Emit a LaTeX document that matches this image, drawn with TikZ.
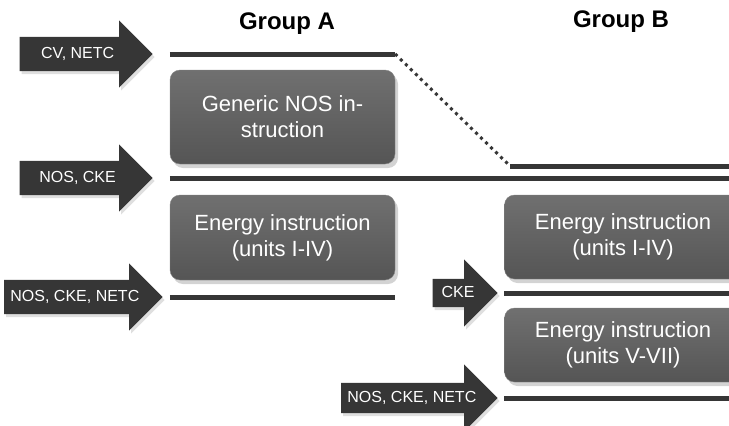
\documentclass[tikz,border=0pt]{standalone}
\usepackage{fontspec}
\setmainfont{Liberation Sans}
\usetikzlibrary{shapes.arrows,shadows}
\definecolor{darkbar}{HTML}{363636}
\definecolor{boxtop}{HTML}{707070}
\definecolor{boxbot}{HTML}{555555}
\tikzset{tag/.style = {single arrow, draw=none, fill=darkbar, text=white, font=\fontsize{16}{18}\selectfont,
		single arrow head extend=16.5pt, text height=12pt, text depth=4pt, inner ysep=9pt, inner xsep=6pt,
		anchor=tip, drop shadow={opacity=0.25, shadow xshift=2pt, shadow yshift=-3pt}},
	block/.style    = {rectangle, rounded corners=10pt, top color=boxtop, bottom color=boxbot, draw=boxtop!85!white,
		text=white, align=center, font=\fontsize{22}{26}\selectfont, minimum width=225pt,
		drop shadow={opacity=0.35, shadow xshift=3pt, shadow yshift=-4pt}},
	bar/.style      = {draw=darkbar, line width=5pt},
	dotline/.style  = {draw=darkbar, line width=3pt, dash pattern=on 3pt off 4pt},
	title/.style    = {font=\bfseries\fontsize{24}{28}\selectfont}
}
\begin{document}
\begin{tikzpicture}[x=1pt, y=-1pt]
		\clip (0,0) rectangle (729,426);
		\coordinate (edge) at (729,0);
		\node [title] (grpA) at (287,24) {Group A};
		\node [title] (grpB) at (621,22) {Group B};
		\node [block, minimum height=94pt] (nosA) at (282.5,117) {Generic NOS in-\\struction};
		\node [block, minimum height=85pt] (energyA) at (282.5,237.5) {Energy instruction\\(units I-IV)};
		\node [block, minimum width=237pt, minimum height=84pt] (energyB) at (623,237) {Energy instruction\\(units I-IV)};
		\node [block, minimum width=237pt, minimum height=74pt, below of=energyB, node distance=108pt] (energyB2) {Energy instruction\\(units V-VII)};
		\node [tag, minimum height=133pt] (cvnetc) at (153,54) {CV, NETC};
		\node [tag, minimum height=133pt] (noscke) at (153,178) {NOS, CKE};
		\node [tag, minimum height=155pt] (allA) at (163,297) {NOS, CKE, NETC};
		\node [tag, minimum height=65pt, inner ysep=6pt, single arrow head extend=19.5pt] (ckeB) at (498,293) {CKE};
		\node [tag, minimum height=155pt, inner ysep=7pt, single arrow head extend=18.5pt] (allB) at (498,398) {NOS, CKE, NETC};
		\coordinate (dropB) at (510,166);
		\draw[bar] (cvnetc.tip -| nosA.west) -- (cvnetc.tip -| nosA.east) coordinate (dropA);
		\draw[dotline] (dropA) -- (dropB);
		\draw[bar] (dropB) -- (dropB -| edge);
		\draw[bar] (noscke.tip -| nosA.west) -- (noscke.tip -| edge);
		\draw[bar] (allA.tip -| energyA.west) -- (allA.tip -| energyA.east);
		\draw[bar] (ckeB.tip -| energyB.west) -- (ckeB.tip -| edge);
		\draw[bar] (allB.tip -| energyB2.west) -- (allB.tip -| edge);
	\end{tikzpicture}
\end{document}
